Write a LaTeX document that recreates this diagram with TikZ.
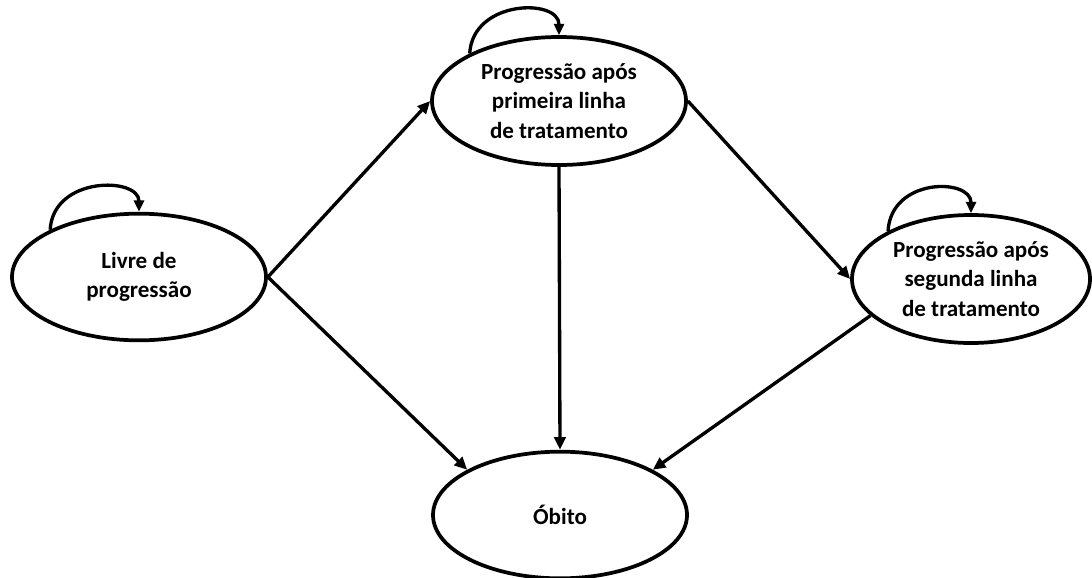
\documentclass[tikz,border=0pt]{standalone}
\usepackage{fontspec}
\setmainfont{Carlito}
\usetikzlibrary{shapes.geometric,arrows.meta,calc}
\begin{document}
\begin{tikzpicture}[x=0.75pt,y=-0.75pt,
  state/.style={ellipse,draw=black,line width=2.8pt,inner sep=0pt,align=center,
    font=\bfseries\fontsize{17.3}{22}\selectfont},
  conn/.style={line width=2.5pt,-{Triangle[length=9.5pt,width=8.5pt]}},
  loopc/.style={line width=2.5pt,-{Triangle[length=8.5pt,width=7.5pt]}}]
\useasboundingbox (0,0) rectangle (1092,578);
\node[state,minimum width=190.5pt,minimum height=95pt] (l) at (139,277) {Livre de\\progressão};
\node[state,minimum width=190.5pt,minimum height=96pt] (t) at (559,101) {Progressão após\\primeira linha\\de tratamento};
\node[state,minimum width=178.5pt,minimum height=96pt] (r) at (971,279) {Progressão após\\segunda linha\\de tratamento};
\node[state,minimum width=190.5pt,minimum height=95pt] (o) at (560,515) {Óbito};
% transitions
\draw[conn] (l.east) -- (t.west);
\draw[conn] (l.east) -- (o.154);
\draw[conn] (t.south) -- (o.north);
\draw[conn] (t.east) -- (r.west);
\draw[conn] (r.200) -- (o.26);
% self loops
\draw[loopc] (l.152) .. controls ($(l.152)+(3,-54)$) and ($(l.north)+(0,-35)$) .. (l.north);
\draw[loopc] (t.152) .. controls ($(t.152)+(3,-54)$) and ($(t.north)+(0,-37)$) .. (t.north);
\draw[loopc] (r.150) .. controls ($(r.150)+(3,-54)$) and ($(r.north)+(0,-35)$) .. (r.north);
\end{tikzpicture}
\end{document}
